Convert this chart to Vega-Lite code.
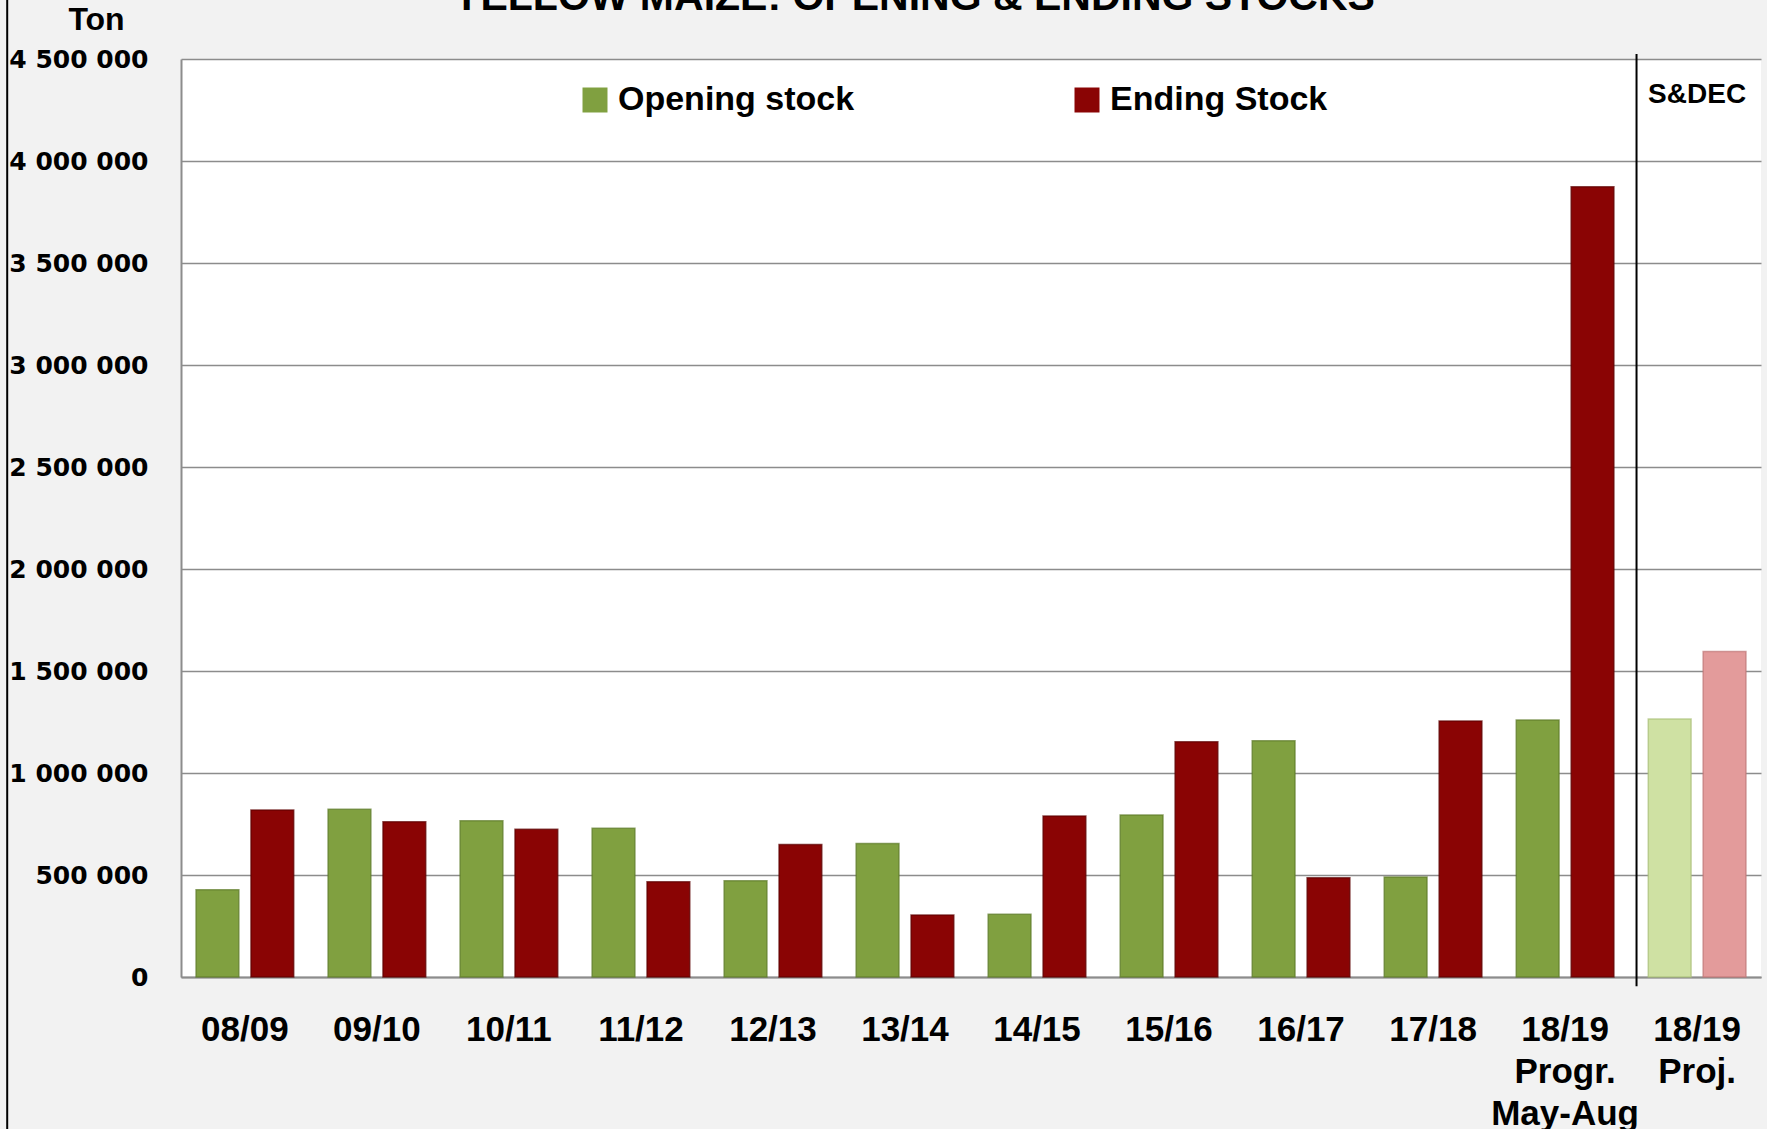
{
  "$schema": "https://vega.github.io/schema/vega-lite/v6.json",
  "width": 1580,
  "height": 918,
  "autosize": {"type": "none"},
  "padding": {"left": 181, "top": 59, "right": 6, "bottom": 152},
  "background": "#f2f2f2",
  "config": {
    "view": {"fill": "white", "stroke": null},
    "locale": {"number": {"decimal": ".", "thousands": " ", "grouping": [3], "currency": ["", ""]}},
    "font": "Liberation Sans, sans-serif"
  },
  "title": {
    "text": "YELLOW MAIZE: OPENING & ENDING STOCKS",
    "font": "Liberation Sans, sans-serif",
    "fontSize": 41,
    "fontWeight": "bold",
    "color": "black",
    "anchor": "middle",
    "frame": "group",
    "dx": -57,
    "baseline": "alphabetic",
    "offset": -54
  },
  "datasets": {
    "stocks": [
      {"season": "08/09", "series": "Opening stock", "colour_key": "Opening stock", "tons": 428000},
      {"season": "08/09", "series": "Ending Stock", "colour_key": "Ending Stock", "tons": 819000},
      {"season": "09/10", "series": "Opening stock", "colour_key": "Opening stock", "tons": 822000},
      {"season": "09/10", "series": "Ending Stock", "colour_key": "Ending Stock", "tons": 761000},
      {"season": "10/11", "series": "Opening stock", "colour_key": "Opening stock", "tons": 766000},
      {"season": "10/11", "series": "Ending Stock", "colour_key": "Ending Stock", "tons": 724000},
      {"season": "11/12", "series": "Opening stock", "colour_key": "Opening stock", "tons": 729000},
      {"season": "11/12", "series": "Ending Stock", "colour_key": "Ending Stock", "tons": 467000},
      {"season": "12/13", "series": "Opening stock", "colour_key": "Opening stock", "tons": 472000},
      {"season": "12/13", "series": "Ending Stock", "colour_key": "Ending Stock", "tons": 650000},
      {"season": "13/14", "series": "Opening stock", "colour_key": "Opening stock", "tons": 655000},
      {"season": "13/14", "series": "Ending Stock", "colour_key": "Ending Stock", "tons": 304000},
      {"season": "14/15", "series": "Opening stock", "colour_key": "Opening stock", "tons": 307000},
      {"season": "14/15", "series": "Ending Stock", "colour_key": "Ending Stock", "tons": 789000},
      {"season": "15/16", "series": "Opening stock", "colour_key": "Opening stock", "tons": 794000},
      {"season": "15/16", "series": "Ending Stock", "colour_key": "Ending Stock", "tons": 1153000},
      {"season": "16/17", "series": "Opening stock", "colour_key": "Opening stock", "tons": 1158000},
      {"season": "16/17", "series": "Ending Stock", "colour_key": "Ending Stock", "tons": 487000},
      {"season": "17/18", "series": "Opening stock", "colour_key": "Opening stock", "tons": 490000},
      {"season": "17/18", "series": "Ending Stock", "colour_key": "Ending Stock", "tons": 1255000},
      {"season": "18/19 Progr. May-Aug", "series": "Opening stock", "colour_key": "Opening stock", "tons": 1260000},
      {"season": "18/19 Progr. May-Aug", "series": "Ending Stock", "colour_key": "Ending Stock", "tons": 3874000},
      {"season": "18/19 Proj.", "series": "Opening stock", "colour_key": "Opening stock (proj.)", "tons": 1265000},
      {"season": "18/19 Proj.", "series": "Ending Stock", "colour_key": "Ending Stock (proj.)", "tons": 1595000}
    ],
    "divider": [{"season": "18/19 Proj.", "top": 4525000, "bottom": -45000}],
    "note": [{"season": "18/19 Proj.", "label": "S&DEC", "tons": 4325000}],
    "frame": [{"edge": -0.11, "top": 4800000, "bottom": -760000}]
  },
  "resolve": {"scale": {"x": "independent"}, "axis": {"x": "independent"}},
  "layer": [
    {
      "layer": [
        {
          "data": {"name": "stocks"},
          "mark": {"type": "bar", "strokeWidth": 1.5, "strokeOpacity": 0.7},
          "encoding": {
            "x": {
              "field": "season",
              "type": "nominal",
              "sort": null,
              "scale": {"paddingInner": 0.26, "paddingOuter": 0.114},
              "axis": {
                "title": null,
                "labelExpr": "split(datum.label, ' ')",
                "labelAngle": 0,
                "labelFont": "Liberation Sans, sans-serif",
                "labelFontSize": 35,
                "labelFontWeight": "bold",
                "labelColor": "black",
                "labelBaseline": "top",
                "labelLineHeight": 42,
                "labelPadding": 35,
                "labelLimit": 400,
                "ticks": false,
                "domain": true,
                "domainColor": "#8c8c8c",
                "domainWidth": 2
              }
            },
            "xOffset": {
              "field": "series",
              "type": "nominal",
              "sort": ["Opening stock", "Ending Stock"],
              "scale": {"paddingInner": 0.22, "paddingOuter": 0}
            },
            "y": {
              "field": "tons",
              "type": "quantitative",
              "scale": {"domain": [0, 4500000], "nice": false},
              "axis": {
                "title": "Ton",
                "titleAngle": 0,
                "titleX": -85,
                "titleY": -40,
                "titleAlign": "center",
                "titleBaseline": "middle",
                "titleFont": "Liberation Sans, sans-serif",
                "titleFontSize": 32,
                "titleFontWeight": "bold",
                "titleColor": "black",
                "values": [0, 500000, 1000000, 1500000, 2000000, 2500000, 3000000, 3500000, 4000000, 4500000],
                "format": ",d",
                "labelFont": "DejaVu Sans",
                "labelFontSize": 25,
                "labelFontWeight": "bold",
                "labelColor": "black",
                "labelPadding": 33,
                "ticks": false,
                "domain": true,
                "domainColor": "#8c8c8c",
                "domainWidth": 2,
                "grid": true,
                "gridColor": "#8c8c8c",
                "gridWidth": 1.5
              }
            },
            "color": {
              "field": "colour_key",
              "type": "nominal",
              "scale": {
                "domain": ["Opening stock", "Ending Stock", "Opening stock (proj.)", "Ending Stock (proj.)"],
                "range": ["#80a040", "#8a0404", "#cfe1a3", "#e39b9b"]
              },
              "legend": {
                "values": ["Opening stock", "Ending Stock"],
                "title": null,
                "orient": "none",
                "legendX": 397,
                "legendY": 24,
                "direction": "horizontal",
                "symbolType": "square",
                "symbolSize": 625,
                "symbolStrokeWidth": 0,
                "labelFont": "Liberation Sans, sans-serif",
                "labelFontSize": 34,
                "labelFontWeight": "bold",
                "labelColor": "black",
                "labelOffset": 6,
                "labelLimit": 400,
                "columnPadding": 215,
                "padding": 0
              }
            },
            "stroke": {
              "field": "colour_key",
              "type": "nominal",
              "scale": {
                "domain": ["Opening stock", "Ending Stock", "Opening stock (proj.)", "Ending Stock (proj.)"],
                "range": ["#5c7a28", "#5c0000", "#a9bf78", "#bf7676"]
              },
              "legend": null
            }
          }
        },
        {
          "data": {"name": "divider"},
          "mark": {"type": "rule", "color": "black", "strokeWidth": 2},
          "encoding": {
            "x": {"field": "season", "type": "nominal", "bandPosition": -0.12},
            "y": {"field": "top", "type": "quantitative"},
            "y2": {"field": "bottom"}
          }
        },
        {
          "data": {"name": "note"},
          "mark": {"type": "text", "font": "Liberation Sans, sans-serif", "fontSize": 28, "fontWeight": "bold", "color": "black", "baseline": "middle", "align": "center"},
          "encoding": {
            "x": {"field": "season", "type": "nominal"},
            "y": {"field": "tons", "type": "quantitative"},
            "text": {"field": "label"}
          }
        }
      ]
    },
    {
      "data": {"name": "frame"},
      "mark": {"type": "rule", "color": "black", "strokeWidth": 2},
      "encoding": {
        "x": {"field": "edge", "type": "quantitative", "scale": {"domain": [0, 1], "nice": false, "zero": false}, "axis": null},
        "y": {"field": "top", "type": "quantitative"},
        "y2": {"field": "bottom"}
      }
    }
  ]
}
